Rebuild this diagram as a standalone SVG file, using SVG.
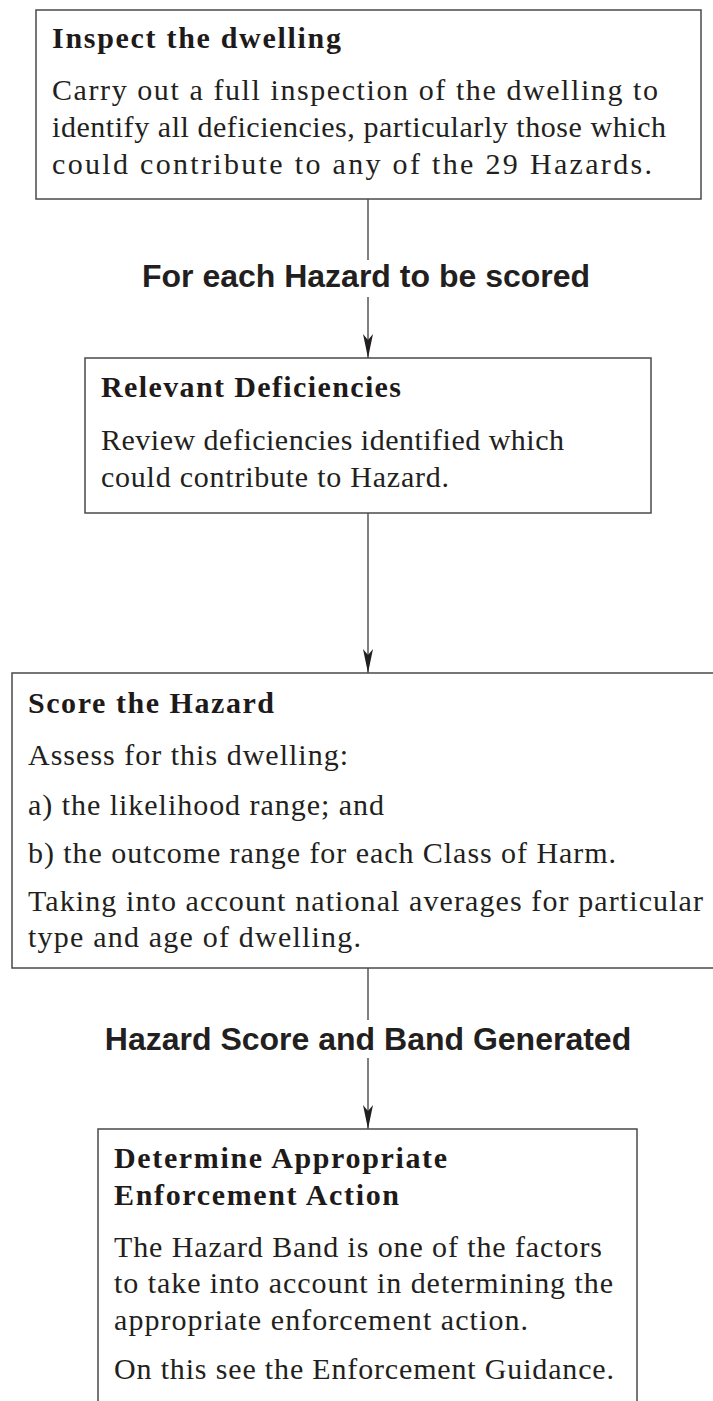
<svg xmlns="http://www.w3.org/2000/svg" width="713" height="1401" viewBox="0 0 713 1401">
<style>
.box{fill:#fff;stroke:#4a4a4a;stroke-width:1.5}
.t{font-family:"Liberation Serif",serif;font-weight:bold;font-size:30px;fill:#1e1a1a}
.b{font-family:"Liberation Serif",serif;font-size:30px;fill:#231f20}
.h{font-family:"Liberation Sans",Arial,sans-serif;font-weight:bold;font-size:32px;fill:#231f20;text-anchor:middle}
.c{stroke:#4a4a4a;stroke-width:1.4;fill:none}
</style>
<defs>
<marker id="arr" viewBox="0 0 24 10" refX="24" refY="5" markerWidth="24" markerHeight="10" markerUnits="userSpaceOnUse" orient="auto">
<path d="M0,0 L6,5 L0,10 L24,5 Z" fill="#231f20"/>
</marker>
</defs>
<rect width="713" height="1401" fill="#fff"/>
<g id="connectors">
<line class="c" x1="368" y1="199" x2="368" y2="260"/>
<line class="c" x1="368" y1="297" x2="368" y2="358" marker-end="url(#arr)"/>
<line class="c" x1="368" y1="513" x2="368" y2="673" marker-end="url(#arr)"/>
<line class="c" x1="368" y1="968" x2="368" y2="1020"/>
<line class="c" x1="368" y1="1058" x2="368" y2="1129" marker-end="url(#arr)"/>
</g>
<g id="inspect">
<rect class="box" x="36" y="10" width="665" height="189"/>
<text class="t" x="52" y="48" textLength="289" lengthAdjust="spacing">Inspect the dwelling</text>
<text class="b" x="52" y="100" textLength="606" lengthAdjust="spacing">Carry out a full inspection of the dwelling to</text>
<text class="b" x="52" y="137" textLength="614" lengthAdjust="spacing">identify all deficiencies, particularly those which</text>
<text class="b" x="52" y="174" textLength="600" lengthAdjust="spacing">could contribute to any of the 29 Hazards.</text>
</g>
<g id="label1">
<text class="h" x="366" y="287">For each Hazard to be scored</text>
</g>
<g id="relevant">
<rect class="box" x="85" y="358" width="566" height="155"/>
<text class="t" x="101" y="397" textLength="300" lengthAdjust="spacing">Relevant Deficiencies</text>
<text class="b" x="101" y="450" textLength="463" lengthAdjust="spacing">Review deficiencies identified which</text>
<text class="b" x="101" y="487" textLength="348" lengthAdjust="spacing">could contribute to Hazard.</text>
</g>
<g id="score">
<rect class="box" x="12" y="673" width="720" height="295"/>
<text class="t" x="28" y="713" textLength="246" lengthAdjust="spacing">Score the Hazard</text>
<text class="b" x="28" y="765" textLength="320" lengthAdjust="spacing">Assess for this dwelling:</text>
<text class="b" x="28" y="815" textLength="356" lengthAdjust="spacing">a) the likelihood range; and</text>
<text class="b" x="28" y="863" textLength="588" lengthAdjust="spacing">b) the outcome range for each Class of Harm.</text>
<text class="b" x="28" y="911" textLength="675" lengthAdjust="spacing">Taking into account national averages for particular</text>
<text class="b" x="28" y="947" textLength="333" lengthAdjust="spacing">type and age of dwelling.</text>
</g>
<g id="label2">
<text class="h" x="368" y="1050">Hazard Score and Band Generated</text>
</g>
<g id="enforcement">
<rect class="box" x="98" y="1129" width="539" height="290"/>
<text class="t" x="114" y="1168" textLength="333" lengthAdjust="spacing">Determine Appropriate</text>
<text class="t" x="114" y="1205" textLength="285" lengthAdjust="spacing">Enforcement Action</text>
<text class="b" x="114" y="1257" textLength="488" lengthAdjust="spacing">The Hazard Band is one of the factors</text>
<text class="b" x="114" y="1293" textLength="499" lengthAdjust="spacing">to take into account in determining the</text>
<text class="b" x="114" y="1330" textLength="414" lengthAdjust="spacing">appropriate enforcement action.</text>
<text class="b" x="114" y="1379" textLength="500" lengthAdjust="spacing">On this see the Enforcement Guidance.</text>
</g>
</svg>
